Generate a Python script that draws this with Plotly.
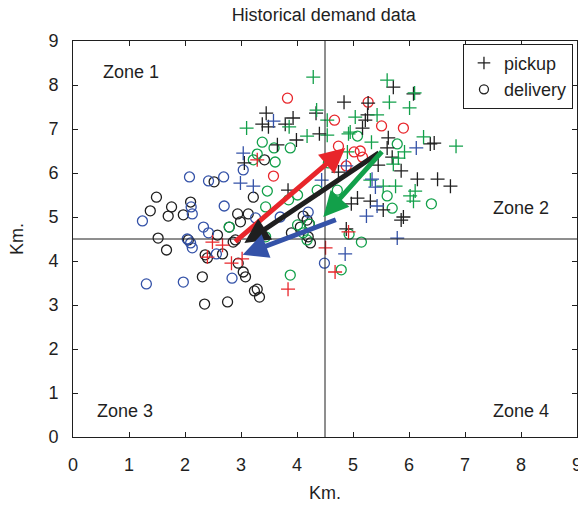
import plotly.graph_objects as go

# ---- pickup points (+), by colour group ----
black_pick_x = [3.45, 3.38, 3.49, 3.79, 3.93, 3.65, 3.99, 3.06, 4.34, 4.40, 4.84, 5.27, 5.26, 5.22,
                5.17, 5.72, 6.08, 5.63, 6.38, 6.45, 5.61, 5.70, 5.45, 5.86, 6.15, 6.51, 6.74, 5.08,
                5.31, 5.54, 5.90, 5.86, 4.97, 4.88, 3.84, 4.74]
black_pick_y = [7.36, 7.11, 7.05, 7.11, 7.25, 6.64, 6.75, 6.23, 7.36, 6.89, 7.61, 7.59, 7.32, 7.20,
                7.02, 7.95, 7.80, 6.80, 6.66, 6.68, 6.57, 6.36, 6.18, 6.05, 5.86, 5.86, 5.70, 5.43,
                5.36, 5.16, 5.00, 4.93, 5.30, 4.73, 5.61, 6.02]

green_pick_x = [4.29, 5.61, 6.10, 5.65, 4.35, 5.43, 6.01, 3.86, 4.54, 5.04, 4.95, 4.18, 4.54, 6.26,
                6.84, 5.33, 4.90, 5.92, 5.81, 5.72, 5.54, 5.76, 6.02, 6.11, 6.08, 5.31, 3.10, 4.92]
green_pick_y = [8.18, 8.11, 7.82, 7.61, 7.43, 7.32, 7.48, 7.05, 7.20, 7.27, 6.93, 6.84, 6.86, 6.82,
                6.61, 6.70, 6.48, 6.48, 6.34, 6.20, 5.70, 5.70, 5.48, 5.59, 5.36, 5.84, 7.02, 6.89]

red_pick_x = [3.29, 4.92, 4.51, 4.68, 3.84, 2.49, 2.67, 2.40, 2.83, 3.02]
red_pick_y = [6.30, 4.66, 4.30, 3.75, 3.36, 4.43, 4.36, 4.09, 3.95, 4.05]

blue_pick_x = [3.58, 3.04, 2.99, 3.22, 4.44, 5.40, 5.43, 5.24, 5.79, 4.86, 6.13, 4.88, 5.34]
blue_pick_y = [7.18, 6.45, 5.77, 5.70, 5.84, 5.68, 5.25, 5.02, 4.52, 4.16, 6.57, 6.16, 5.86]

# ---- delivery points (o), by colour group ----
black_del_x = [2.52, 1.49, 1.38, 1.76, 1.70, 2.10, 1.97, 1.52, 1.67, 2.06, 2.58, 2.36, 2.40, 2.67,
               2.31, 2.35, 2.76, 2.95, 3.04, 3.08, 3.24, 3.33, 3.29, 2.86, 3.42, 3.22, 2.94, 3.13,
               2.99, 2.79, 2.90, 4.11, 4.18, 4.22, 4.06, 4.20, 4.24, 3.90]
black_del_y = [5.80, 5.45, 5.14, 5.23, 5.02, 5.34, 5.05, 4.52, 4.25, 4.48, 4.59, 4.14, 4.07, 4.16,
               3.64, 3.02, 3.07, 3.95, 3.75, 3.64, 3.32, 3.18, 3.36, 4.43, 6.30, 5.45, 5.07, 5.07,
               4.89, 4.77, 4.48, 5.02, 4.93, 4.84, 4.77, 4.55, 4.41, 4.64]

blue_del_x = [2.08, 2.42, 2.69, 3.04, 1.24, 2.11, 2.13, 2.70, 2.33, 2.42, 3.26, 3.70, 2.04, 2.10,
              2.13, 1.31, 1.97, 2.84, 2.56, 4.49, 4.20]
blue_del_y = [5.91, 5.82, 5.91, 6.07, 4.91, 5.23, 5.07, 5.25, 4.77, 4.64, 4.98, 5.00, 4.50, 4.41,
              4.30, 3.48, 3.52, 3.61, 4.16, 3.95, 5.11]

green_del_x = [3.38, 3.59, 3.88, 3.29, 3.22, 3.61, 4.56, 5.08, 5.79, 3.47, 3.44, 3.85, 4.36, 4.72,
               4.01, 5.61, 5.70, 6.40, 4.93, 5.15, 4.79, 3.88, 4.22, 4.01, 4.11, 3.44, 2.79, 4.18]
green_del_y = [6.70, 6.57, 6.57, 6.43, 6.30, 6.25, 6.23, 6.84, 6.66, 5.59, 5.23, 5.39, 5.61, 5.61,
               5.50, 5.48, 5.20, 5.30, 4.61, 4.43, 3.80, 3.68, 4.84, 4.82, 4.64, 4.55, 4.77, 4.48]

red_del_x = [3.83, 5.27, 4.67, 5.51, 5.90, 4.74, 5.02, 5.13, 5.17, 4.88, 3.58]
red_del_y = [7.70, 7.61, 7.20, 7.07, 7.02, 6.61, 6.48, 6.50, 6.36, 6.16, 5.93]

# ---- flow arrows (tail -> head) ----
arrow_colors = ["#e8262b", "#1f1f1f", "#12a04a", "#3452a8"]
arrow_tail_x = [2.87, 5.49, 5.54, 4.72]
arrow_tail_y = [4.41, 6.48, 6.52, 4.95]
arrow_head_x = [4.86, 3.06, 4.47, 3.03]
arrow_head_y = [6.57, 4.41, 5.00, 4.14]

# ---- zones ----
zone_split = 4.5
zone_names = ["Zone 1", "Zone 2", "Zone 3", "Zone 4"]
zone_label_x = [1.03, 8.0, 0.93, 8.0]
zone_label_y = [8.3, 5.2, 0.6, 0.6]

RED, GREEN, BLUE, BLACK = "#e8262b", "#12a04a", "#3452a8", "#1f1f1f"
FONT = "Liberation Sans, Arial, sans-serif"
FS = 18

fig = go.Figure()


def add_points(xs, ys, color, symbol, size):
    fig.add_trace(go.Scatter(
        x=xs, y=ys, mode="markers", showlegend=False, hoverinfo="skip",
        marker=dict(symbol=symbol, size=size, color=color,
                    line=dict(color=color, width=1.3)),
    ))


for xs, ys, c in [(black_del_x, black_del_y, BLACK), (blue_del_x, blue_del_y, BLUE),
                  (green_del_x, green_del_y, GREEN), (red_del_x, red_del_y, RED)]:
    add_points(xs, ys, c, "circle-open", 10)
for xs, ys, c in [(black_pick_x, black_pick_y, BLACK), (green_pick_x, green_pick_y, GREEN),
                  (red_pick_x, red_pick_y, RED), (blue_pick_x, blue_pick_y, BLUE)]:
    add_points(xs, ys, c, "cross-thin-open", 10)

# legend entries
fig.add_trace(go.Scatter(x=[None], y=[None], mode="markers", name="pickup",
                         marker=dict(symbol="cross-thin-open", size=9, color=BLACK,
                                     line=dict(color=BLACK, width=1.3))))
fig.add_trace(go.Scatter(x=[None], y=[None], mode="markers", name="delivery",
                         marker=dict(symbol="circle-open", size=9, color=BLACK,
                                     line=dict(color=BLACK, width=1.3))))

# zone dividers
fig.add_shape(type="line", xref="x", yref="y", x0=zone_split, x1=zone_split, y0=0, y1=9,
              line=dict(color=BLACK, width=1))
fig.add_shape(type="line", xref="x", yref="y", x0=0, x1=9, y0=zone_split, y1=zone_split,
              line=dict(color=BLACK, width=1))

annotations = []
for tx, ty, hx, hy, c in zip(arrow_tail_x, arrow_tail_y, arrow_head_x, arrow_head_y, arrow_colors):
    annotations.append(dict(x=hx, y=hy, ax=tx, ay=ty, xref="x", yref="y", axref="x", ayref="y",
                            text="", showarrow=True, arrowhead=2, arrowsize=1.0,
                            arrowwidth=5, arrowcolor=c, standoff=0, startstandoff=0))
for name, zx, zy in zip(zone_names, zone_label_x, zone_label_y):
    annotations.append(dict(x=zx, y=zy, xref="x", yref="y", text=name, showarrow=False,
                            font=dict(size=FS, color=BLACK, family=FONT)))

axis_common = dict(range=[0, 9], dtick=1, showline=True, linecolor=BLACK, linewidth=1,
                   mirror="ticks", ticks="inside", ticklen=5, tickcolor=BLACK,
                   showgrid=False, zeroline=False, ticklabeloverflow="allow", automargin=False,
                   tickfont=dict(size=FS, color=BLACK, family=FONT))

fig.update_layout(
    width=578, height=510,
    margin=dict(l=73, r=1, t=41, b=73, autoexpand=False),
    paper_bgcolor="white", plot_bgcolor="white",
    title=dict(text="Historical demand data", x=0.56, xanchor="center", y=0.972, yanchor="middle",
               font=dict(size=FS, color=BLACK, family=FONT)),
    xaxis=dict(**axis_common, ticklabelstandoff=11,
               title=dict(text="Km.", standoff=12, font=dict(size=FS, color=BLACK, family=FONT))),
    yaxis=dict(**axis_common, ticklabelstandoff=10,
               title=dict(text="Km.", standoff=20, font=dict(size=FS, color=BLACK, family=FONT))),
    legend=dict(x=0.992, xanchor="right", y=0.993, yanchor="top", bordercolor=BLACK, borderwidth=1,
                bgcolor="white", font=dict(size=FS, color=BLACK, family=FONT),
                itemwidth=30, tracegroupgap=0),
    annotations=annotations,
    showlegend=True,
)

fig.write_html("out.html")
